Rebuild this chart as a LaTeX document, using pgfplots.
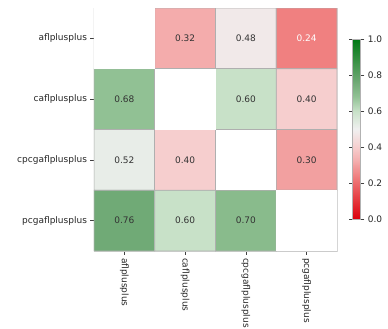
\documentclass[border=0pt]{standalone}
\usepackage{pgfplots}
\pgfplotsset{compat=1.18}
\usepackage{fontspec}
\setmainfont{DejaVu Sans}
\definecolor{txt}{RGB}{38,38,38}
\definecolor{ann}{RGB}{51,51,51}
\definecolor{cellline}{RGB}{175,175,175}
\begin{document}
\begin{tikzpicture}[font=\fontsize{9}{11}\selectfont]
\useasboundingbox (-94pt,-78pt) rectangle (294pt,251pt);
\begin{axis}[
  at={(0pt,0pt)}, anchor=south west,
  width=243pt, height=243pt, scale only axis,
  xmin=-0.5, xmax=3.5, ymin=-0.5, ymax=3.5,
  y dir=reverse,
  enlargelimits=false,
  xtick={0,1,2,3}, ytick={0,1,2,3},
  xticklabels={aflplusplus,caflplusplus,cpcgaflplusplus,pcgaflplusplus},
  yticklabels={aflplusplus,caflplusplus,cpcgaflplusplus,pcgaflplusplus},
  xticklabel style={rotate=-90, anchor=west, text=txt, font=\fontsize{9}{11}\selectfont},
  yticklabel style={text=txt, font=\fontsize{9}{11}\selectfont},
  xtick pos=bottom, ytick pos=left,
  tick align=outside, major tick length=3.5pt,
  tick style={black!75, line width=0.6pt},
  axis line style={black!15, line width=0.8pt},
  colormap={rwg}{
    rgb255(0pt)=(220,0,12)
    rgb255(12pt)=(230,64,68)
    rgb255(24pt)=(240,128,128)
    rgb255(30pt)=(242,160,160)
    rgb255(32pt)=(244,172,172)
    rgb255(40pt)=(246,206,206)
    rgb255(50pt)=(240,240,240)
    rgb255(60pt)=(200,225,200)
    rgb255(68pt)=(145,193,148)
    rgb255(76pt)=(112,170,118)
    rgb255(88pt)=(56,145,68)
    rgb255(100pt)=(0,120,20)},
  point meta min=0, point meta max=1,
  colorbar right,
  colorbar style={
    at={(1.065,0.872)}, anchor=north west,
    width=8pt, height=180pt,
    ytick={0,0.2,0.4,0.6,0.8,1.0},
    yticklabel style={text=txt, font=\fontsize{9}{11}\selectfont,
      /pgf/number format/.cd, fixed, fixed zerofill, precision=1, assume math mode=true},
    tick align=outside, major tick length=3.5pt,
    tick style={black!75, line width=0.6pt},
    axis line style={black!30, line width=0.6pt},
  },
]
\addplot[matrix plot*, mesh/cols=4, point meta=explicit, draw=cellline, line width=0.7pt]
  table[x=x, y=y, meta=c] {
x y c
0 0 0.5
1 0 0.32
2 0 0.48
3 0 0.24
0 1 0.68
1 1 0.5
2 1 0.60
3 1 0.40
0 2 0.52
1 2 0.40
2 2 0.5
3 2 0.30
0 3 0.76
1 3 0.60
2 3 0.70
3 3 0.5
};
\addplot[fill=white, draw=none, forget plot] coordinates {(-0.5,-0.5) (0.5,-0.5) (0.5,0.5) (-0.5,0.5)} -- cycle;
\addplot[fill=white, draw=none, forget plot] coordinates {(0.5,0.5) (1.5,0.5) (1.5,1.5) (0.5,1.5)} -- cycle;
\addplot[fill=white, draw=none, forget plot] coordinates {(1.5,1.5) (2.5,1.5) (2.5,2.5) (1.5,2.5)} -- cycle;
\addplot[fill=white, draw=none, forget plot] coordinates {(2.5,2.5) (3.5,2.5) (3.5,3.5) (2.5,3.5)} -- cycle;
\addplot[only marks, mark=none, nodes near coords, point meta=explicit symbolic,
  nodes near coords style={anchor=center, text=ann, font=\fontsize{9}{11}\selectfont}]
  table[x=x, y=y, meta=l] {
x y l
1 0 0.32
2 0 0.48
0 1 0.68
2 1 0.60
3 1 0.40
0 2 0.52
1 2 0.40
3 2 0.30
0 3 0.76
1 3 0.60
2 3 0.70
};
\addplot[only marks, mark=none, nodes near coords, point meta=explicit symbolic,
  nodes near coords style={anchor=center, text=white, font=\fontsize{9}{11}\selectfont}]
  table[x=x, y=y, meta=l] {
x y l
3 0 0.24
};
\end{axis}
\end{tikzpicture}
\end{document}
